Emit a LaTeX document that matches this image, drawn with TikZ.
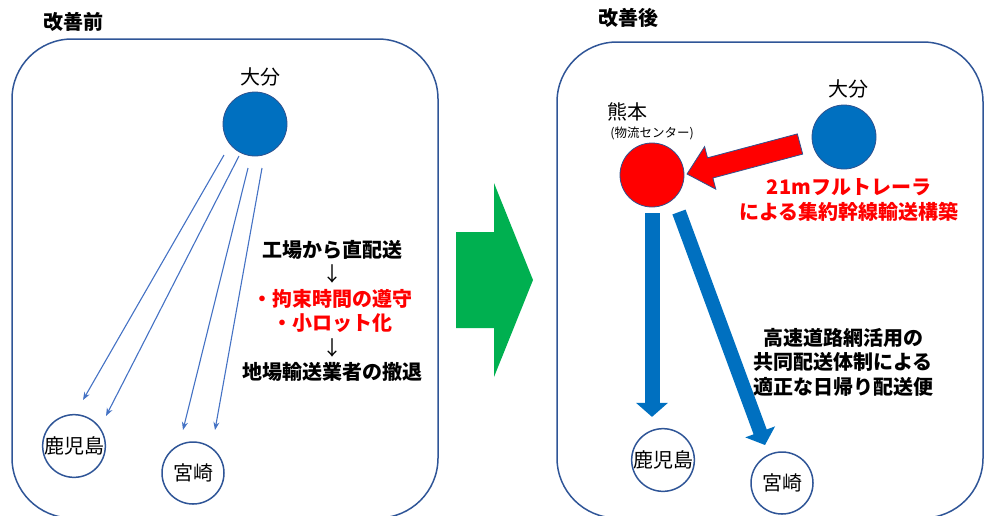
\documentclass[tikz,border=0pt]{standalone}
\usepackage{fontspec}
\setmainfont{Noto Sans CJK JP}
\usetikzlibrary{arrows.meta,calc}
\definecolor{panelblue}{HTML}{2F5597}
\definecolor{hubblue}{HTML}{0070C0}
\definecolor{hubedge}{HTML}{2F528F}
\definecolor{thinblue}{HTML}{4472C4}
\definecolor{arrowgreen}{HTML}{00B050}
\definecolor{pureRed}{HTML}{FF0000}
\begin{document}
\begin{tikzpicture}[x=1pt,y=-1pt,
  paneltitle/.style={font=\bfseries\fontsize{20}{24}\selectfont, inner sep=0},
  panel/.style={draw=panelblue, line width=1.5pt, rounded corners=60pt, inner sep=0},
  hub/.style={circle, fill=hubblue, draw=hubedge, line width=0.8pt, minimum size=64pt, inner sep=0},
  place/.style={font=\fontsize{20}{24}\selectfont, inner sep=0},
  city/.style={circle, draw=panelblue, line width=1.5pt, fill=white, minimum size=62pt, inner sep=0, font=\fontsize{20}{24}\selectfont},
  thinarr/.style={draw=thinblue, line width=1.1pt, -{Stealth[length=8pt,width=6pt]}},
  thickarr/.style={draw=hubblue, line width=15pt, -{Triangle[length=14pt,width=31pt]}},
  desc/.style={align=center, inner sep=0, font=\bfseries\fontsize{20}{24.5}\selectfont},
  redtxt/.style={desc, text=pureRed},
]
\useasboundingbox (0,0) rectangle (984,515);

% ---------- titles ----------
\node[paneltitle] (tL) at (73,22) {改善前};
\node[paneltitle] (tR) at (628,18) {改善後};

% ---------- panels ----------
\node[panel, minimum width=426pt, minimum height=479pt] (pL) at (225,278.5) {};
\node[panel, minimum width=426pt, minimum height=476pt] (pR) at (770,280) {};

% ---------- left panel ----------
\node[hub] (oitaL) at (255,124) {};
\node[place] (oitaLlbl) at (260,77) {大分};
\node[city] (kagoL) at (74,446) {鹿児島};
\node[city] (miyaL) at (193,473) {宮崎};

\draw[thinarr] ($(oitaL.center)+(-31,31)$) -- ($(kagoL.center)+(9,-46)$);
\draw[thinarr] ($(oitaL.center)+(-16,32)$) -- ($(kagoL.center)+(32,-30)$);
\draw[thinarr] ($(oitaL.center)+(-7,44)$) -- ($(miyaL.center)+(-10,-43)$);
\draw[thinarr] ($(oitaL.center)+(7,44)$) -- ($(miyaL.center)+(22,-43)$);

\node[desc] (descL) at (332,311) {工場から直配送\\{\mdseries ↓}\\{\color{pureRed}・拘束時間の遵守}\\{\color{pureRed}・小ロット化}\\{\mdseries ↓}\\地場輸送業者の撤退};

% ---------- green arrow ----------
\fill[arrowgreen] (456,232) -- (494,232) -- (494,183) -- (533,280) -- (494,377) -- (494,328) -- (456,328) -- cycle;

% ---------- right panel ----------
\node[hub] (oitaR) at (844,137) {};
\node[place] (oitaRlbl) at (848,89) {大分};
\node[hub, fill=pureRed] (kuma) at (652,175) {};
\node[place] (kumaLbl) at (627,112) {熊本};
\node[inner sep=0, font=\fontsize{12.5}{14}\selectfont] (kumaSub) at (652,133) {(物流センター)};

\node[city] (kagoR) at (663,460) {鹿児島};
\node[city] (miyaR) at (782,483) {宮崎};

% red trunk arrow (Oita -> Kumamoto)
\filldraw[fill=pureRed, draw=hubedge, line width=0.8pt]
  (802.7,154.1) -- (797.3,133.9) -- (707.5,157.8) -- (704.6,146.6) -- (687,174)
  -- (715.8,189.2) -- (712.9,178.0) -- cycle;

\draw[thickarr, shorten <=6pt, shorten >=11pt] (kuma.south) -- (kuma.south |- kagoR.north);
\draw[thickarr, line width=14pt] ($(kuma.center)+(27,37)$) -- ($(miyaR.center)+(-17,-38)$);

\node[redtxt] (redNote) at (849,200) {21mフルトレーラ\\による集約幹線輸送構築};
\node[desc] (descR) at (843,362) {高速道路網活用の\\共同配送体制による\\適正な日帰り配送便};
\end{tikzpicture}
\end{document}
